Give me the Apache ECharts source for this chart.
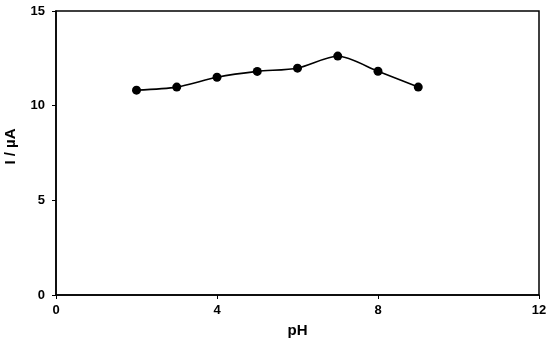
<!DOCTYPE html>
<html><head><meta charset="utf-8">
<script src="https://cdn.jsdelivr.net/npm/echarts@6/dist/echarts.min.js"></script>
<style>html,body{margin:0;padding:0;background:#fff}#c{width:550px;height:343px}</style>
</head><body><div id="c"></div>
<script>
const phValues = [2, 3, 4, 5, 6, 7, 8, 9];
const currentValues = [10.82, 10.98, 11.5, 11.81, 11.98, 12.62, 11.82, 10.98];
const xTicks = [0, 4, 8, 12];
const yTicks = [0, 5, 10, 15];
const font = 'Liberation Sans, Arial, sans-serif';
const chart = echarts.init(document.getElementById('c'), null, {renderer: 'canvas'});
const axisCommon = {
  axisLine: {show: true, onZero: false, lineStyle: {color: '#000', width: 1.5}},
  axisTick: {show: true, inside: false, length: 4, lineStyle: {color: '#000', width: 1}},
  splitLine: {show: false},
  axisLabel: {color: '#000', fontFamily: font, fontWeight: 'bold', fontSize: 13}
};
chart.setOption({
  animation: false,
  grid: {left: 56, right: 11, top: 11, bottom: 48, show: true, borderColor: '#000', borderWidth: 1.5, containLabel: false, outerBoundsMode: 'none'},
  xAxis: Object.assign({}, axisCommon, {
    type: 'value', min: xTicks[0], max: xTicks[xTicks.length-1], interval: 4,
    name: 'pH', nameLocation: 'middle', nameGap: 28,
    nameTextStyle: {color: '#000', fontFamily: font, fontWeight: 'bold', fontSize: 15},
    axisLabel: Object.assign({}, axisCommon.axisLabel, {margin: 9})
  }),
  yAxis: Object.assign({}, axisCommon, {
    type: 'value', min: yTicks[0], max: yTicks[yTicks.length-1], interval: 5,
    name: 'I / µA', nameLocation: 'middle', nameGap: 38,
    nameTextStyle: {color: '#000', fontFamily: font, fontWeight: 'bold', fontSize: 15, padding: [0, 0, 0, 13]},
    axisLabel: Object.assign({}, axisCommon.axisLabel, {margin: 11})
  }),
  series: [{
    type: 'line',
    data: phValues.map((x, i) => [x, currentValues[i]]),
    smooth: 0.25,
    symbol: 'circle', symbolSize: 9,
    itemStyle: {color: '#000'},
    lineStyle: {color: '#000', width: 1.6}
  }]
});
</script></body></html>
